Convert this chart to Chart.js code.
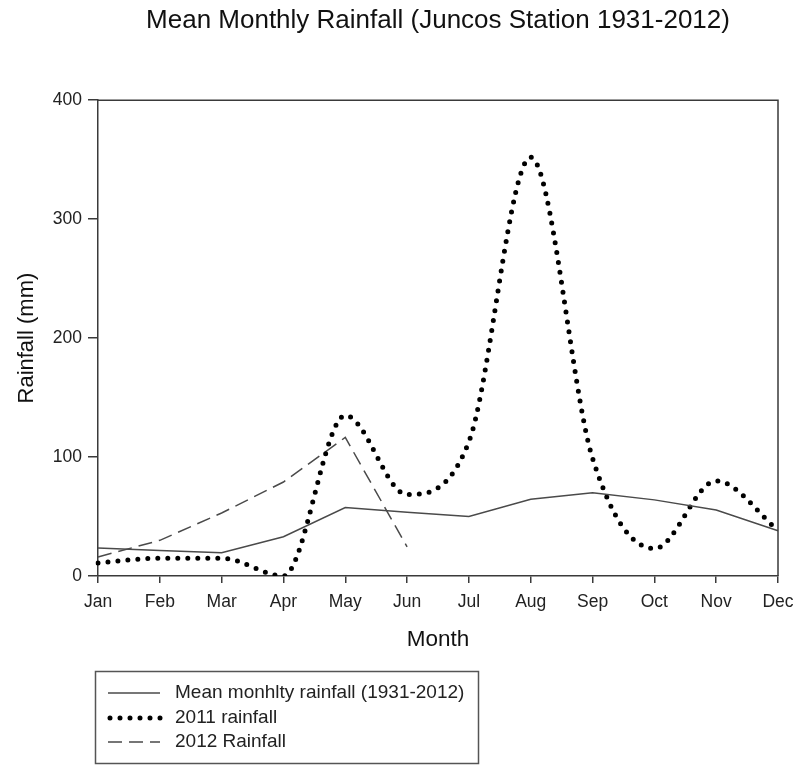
<!DOCTYPE html>
<html>
<head>
<meta charset="utf-8">
<script src="https://cdn.jsdelivr.net/npm/chart.js@4.4.1/dist/chart.umd.min.js"></script>
<style>
  html, body { margin: 0; padding: 0; background: #fff; }
  #wrap { width: 799px; height: 765px; }
</style>
</head>
<body>
<div id="wrap"><canvas id="rainChart" width="799" height="765"></canvas></div>
<script>
// months on the x axis
var months = ["Jan", "Feb", "Mar", "Apr", "May", "Jun", "Jul", "Aug", "Sep", "Oct", "Nov", "Dec"];
// rainfall values (mm)
var meanRain = [23.5, 21.5, 19.5, 33, 57.5, 53.5, 50, 64.5, 70, 64, 55.5, 38];
var rain2011 = [11, 15, 15, 0, 135, 68.5, 113, 352, 99, 23, 80, 38.5];
var rain2012 = [16, 30, 53, 79, 116.5, 24.5, null, null, null, null, null, null];
var seriesNames = ["Mean monhlty rainfall (1931-2012)", "2011 rainfall", "2012 Rainfall"];
var yTicks = [0, 100, 200, 300, 400];

var fontFam = "Arial, 'Liberation Sans', sans-serif";
var axisColor = "#3a3a3a";

/* box round the plot + hand drawn legend */
var frameAndLegend = {
    id: "frameAndLegend",
    afterDraw: function (chart) {
        var ctx = chart.ctx;
        var a = chart.chartArea;
        ctx.save();
        ctx.strokeStyle = axisColor;
        ctx.lineWidth = 1.5;
        ctx.beginPath();
        ctx.moveTo(a.left, a.top);
        ctx.lineTo(a.right, a.top);
        ctx.lineTo(a.right, a.bottom);
        ctx.stroke();

        // legend box
        ctx.strokeStyle = "#555";
        ctx.lineWidth = 1.5;
        ctx.strokeRect(95.5, 671.5, 383, 92);

        var rowsY = [693, 718, 742];
        chart.data.datasets.forEach(function (ds, i) {
            var y = rowsY[i];
            ctx.save();
            ctx.strokeStyle = ds.borderColor;
            ctx.lineWidth = ds.borderWidth;
            ctx.lineCap = ds.borderCapStyle || "butt";
            ctx.setLineDash(ds.borderDash || []);
            ctx.beginPath();
            if (i == 1) {
                ctx.moveTo(110, y);
                ctx.lineTo(162, y);
            } else {
                ctx.moveTo(108, y);
                ctx.lineTo(160, y);
            }
            ctx.stroke();
            ctx.restore();
            ctx.fillStyle = "#222";
            ctx.font = "19px " + fontFam;
            ctx.textBaseline = "middle";
            ctx.textAlign = "left";
            ctx.fillText(seriesNames[i], 175, y);
        });
        ctx.restore();
    }
};

var chartDiv = document.getElementById("rainChart");
var myChart = new Chart(chartDiv, {
    type: "line",
    data: {
        labels: months,
        datasets: [
            {
                label: seriesNames[0],
                data: meanRain,
                borderColor: "#4a4a4a",
                borderWidth: 1.5,
                pointRadius: 0,
                tension: 0
            },
            {
                label: seriesNames[1],
                data: rain2011,
                borderColor: "#000",
                borderWidth: 5,
                borderDash: [0, 10],
                borderCapStyle: "round",
                pointRadius: 0,
                cubicInterpolationMode: "monotone"
            },
            {
                label: seriesNames[2],
                data: rain2012,
                borderColor: "#4a4a4a",
                borderWidth: 1.5,
                borderDash: [14, 7],
                pointRadius: 0,
                spanGaps: false,
                tension: 0
            }
        ]
    },
    options: {
        responsive: false,
        animation: false,
        layout: {
            padding: { left: 0, right: 21, top: 0, bottom: 109 }
        },
        plugins: {
            legend: { display: false },
            tooltip: { enabled: false },
            title: {
                display: true,
                fullSize: false,
                text: "Mean Monthly Rainfall (Juncos Station 1931-2012)",
                color: "#111",
                font: { family: fontFam, size: 26, weight: "normal" },
                padding: { top: 5, bottom: 64 }
            }
        },
        scales: {
            x: {
                offset: false,
                grid: {
                    display: true,
                    drawOnChartArea: false,
                    drawTicks: true,
                    tickLength: 7,
                    color: axisColor,
                    lineWidth: 1.5
                },
                border: { display: true, color: axisColor, width: 1.5 },
                ticks: {
                    color: "#222",
                    padding: 9,
                    maxRotation: 0,
                    autoSkip: false,
                    font: { family: fontFam, size: 17.5 }
                },
                title: {
                    display: true,
                    text: "Month",
                    color: "#111",
                    font: { family: fontFam, size: 22.5 },
                    padding: { top: 0, bottom: 2.5 }
                },
                afterFit: function (scale) {
                    scale.height = 80;
                    scale.paddingLeft = 0;
                    scale.paddingRight = 0;
                }
            },
            y: {
                min: 0,
                max: 400,
                afterBuildTicks: function (scale) {
                    scale.ticks = yTicks.map(function (v) { return { value: v }; });
                },
                grid: {
                    display: true,
                    drawOnChartArea: false,
                    drawTicks: true,
                    tickLength: 10,
                    color: axisColor,
                    lineWidth: 1.5
                },
                border: { display: true, color: axisColor, width: 1.5 },
                ticks: {
                    color: "#222",
                    padding: 6,
                    font: { family: fontFam, size: 17.5 }
                },
                title: {
                    display: true,
                    text: "Rainfall (mm)",
                    color: "#111",
                    font: { family: fontFam, size: 22 },
                    padding: { top: 14, bottom: 0 }
                },
                afterFit: function (scale) {
                    scale.width = 98;
                    scale.paddingTop = 0;
                    scale.paddingBottom = 0;
                }
            }
        }
    },
    plugins: [frameAndLegend]
});
</script>
</body>
</html>
